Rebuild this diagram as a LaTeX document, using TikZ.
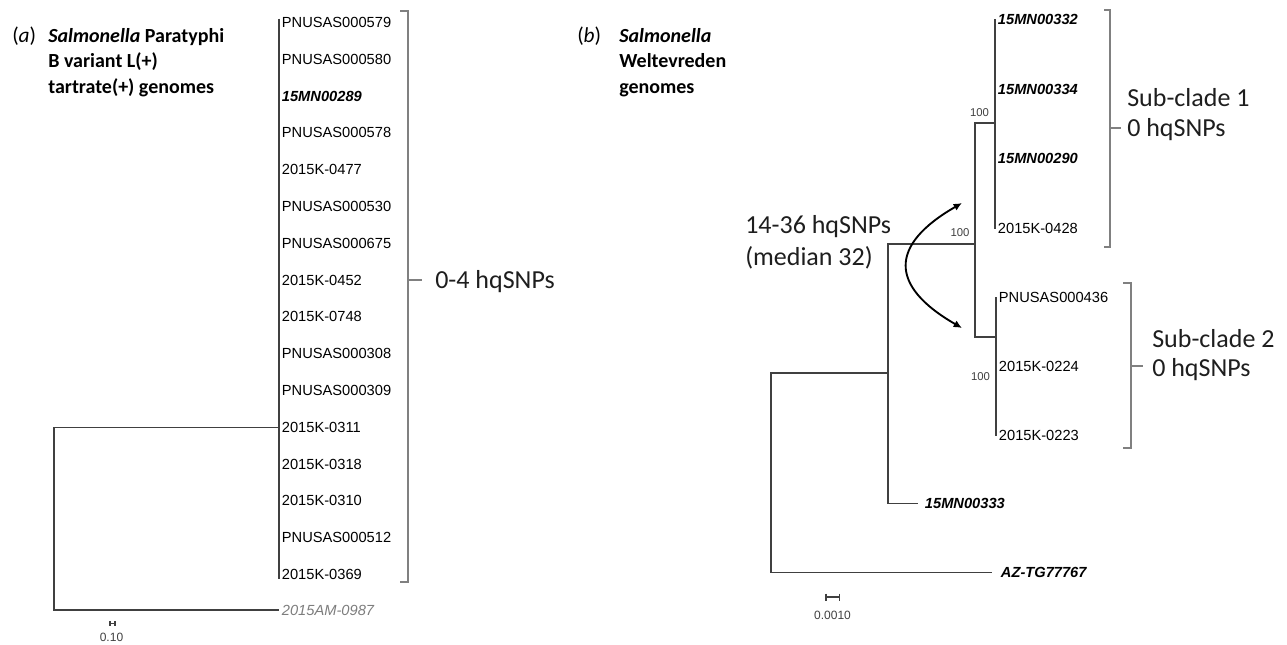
\documentclass[tikz,border=0pt]{standalone}
\usepackage{fontspec}
\setmainfont{Liberation Sans}
\newfontfamily\carlito{Carlito}
\usetikzlibrary{arrows.meta,positioning}
\definecolor{treeink}{RGB}{64,64,64}
\definecolor{bracketgray}{RGB}{128,128,128}
\definecolor{outgroupgray}{RGB}{125,125,125}
\definecolor{noteink}{RGB}{30,30,30}
\tikzset{
  treeline/.style={draw=treeink, line width=0.85pt},
  bracketline/.style={draw=bracketgray, line width=0.85pt},
  tiplabel/.style={anchor=west, inner sep=2pt, font=\fontsize{11}{13}\selectfont},
  tipbold/.style={tiplabel, font=\fontsize{11}{13}\selectfont\bfseries\itshape},
  tipout/.style={tiplabel, text=outgroupgray, font=\fontsize{11}{13}\selectfont\itshape},
  supportlabel/.style={inner sep=0pt, text=treeink, font=\fontsize{8.5}{10}\selectfont},
  scalelabel/.style={inner sep=0pt, text=treeink, font=\fontsize{9}{10}\selectfont},
  snplabel/.style={anchor=base west, inner sep=0pt, text=noteink,
    font=\carlito\fontsize{19.5}{23}\selectfont},
  panelletter/.style={anchor=base west, inner sep=0pt, font=\carlito\fontsize{16}{19}\selectfont},
  paneltitle/.style={anchor=base west, inner sep=0pt, align=left,
    font=\carlito\bfseries\fontsize{15}{19.1}\selectfont},
  swaparrow/.style={{Latex[length=2.2mm,width=2mm]}-{Latex[length=2.2mm,width=2mm]},
    line width=1.4pt, black},
}

\begin{document}
\begin{tikzpicture}[x=0.75pt, y=-0.75pt]
  \useasboundingbox (0,0) rectangle (1287,644);
  % panel (a)
  \node[panelletter] (letA) at (12,42) {(\textit{a})};
  \node[paneltitle] (titleA) at (48,93) {\textit{Salmonella} Paratyphi\\B variant L(+)\\tartrate(+) genomes};
  \foreach \tip [count=\i] in {PNUSAS000579, PNUSAS000580, {\bfseries\itshape 15MN00289},
      PNUSAS000578, 2015K-0477, PNUSAS000530, PNUSAS000675, 2015K-0452, 2015K-0748,
      PNUSAS000308, PNUSAS000309, 2015K-0311, 2015K-0318, 2015K-0310, PNUSAS000512, 2015K-0369}
    \node[tiplabel] (a\i) at (279,{22.5+36.8*(\i-1)}) {\tip};
  \node[tipout] (aout) at (279,610) {2015AM-0987};
  \coordinate (rootA) at (54,610);
  \draw[treeline, shorten <=-3pt, shorten >=-3pt] (a1.west) -- (a16.west);
  \draw[treeline] (a12.west) -| (rootA) -- (aout.west);
  \draw[bracketline] (400,11) -- (408,11) -- (408,582) -- (400,582);
  \draw[bracketline] (408,280) -- (422,280);
  \node[snplabel] (snpA) at (435,288) {0-4 hqSNPs};
  \draw[treeline] (110,623.5) -- (115,623.5) (110,621) -- (110,626) (115,621) -- (115,626);
  \node[scalelabel] (sbA) at (111.5,637.5) {0.10};
  % panel (b)
  \node[panelletter] (letB) at (577,42) {(\textit{b})};
  \node[paneltitle] (titleB) at (619,93) {\textit{Salmonella}\\Weltevreden\\genomes};
  \foreach \sty/\tip/\yy [count=\i] in {tipbold/15MN00332/19, tipbold/15MN00334/89,
      tipbold/15MN00290/158.5, tiplabel/2015K-0428/228.5}
    \node[\sty] (b\i) at (995,\yy) {\tip};
  \foreach \tip/\yy [count=\i] in {PNUSAS000436/297, 2015K-0224/366.5, 2015K-0223/435.5}
    \node[tiplabel] (c\i) at (996,\yy) {\tip};
  \node[tipbold] (bmid) at (922,503.5) {15MN00333};
  \node[tipbold] (bout) at (998,572.5) {AZ-TG77767};
  \coordinate (sc1) at (975,123);
  \coordinate (sc2) at (975,337);
  \coordinate (subA) at (975,244);
  \coordinate (ingrp) at (888,373);
  \coordinate (rootB) at (771,572.5);
  \draw[treeline] (b1.west) -- (b4.west);
  \draw[treeline] (c1.west) -- (c3.west);
  \draw[treeline] (sc1 -| b1.west) -- (sc1) -- (sc2) -- (sc2 -| c1.west);
  \draw[treeline] (ingrp) |- (subA);
  \draw[treeline, shorten >=3pt] (ingrp) |- (bmid.west);
  \draw[treeline] (rootB) |- (ingrp);
  \draw[treeline, shorten >=4.5pt] (rootB) -- (bout.west);
  \node[supportlabel] (bs1) at (979.5,113) {100};
  \node[supportlabel] (bs2) at (960,233) {100};
  \node[supportlabel] (bs3) at (980.5,377) {100};
  \draw[bracketline] (1104,10) -- (1110,10) -- (1110,247) -- (1104,247);
  \draw[bracketline] (1110,128) -- (1121,128);
  \node[snplabel] (subB1) at (1127,106) {Sub-clade 1};
  \node[snplabel] (snpB1) at (1127,136) {0 hqSNPs};
  \draw[bracketline] (1123,283) -- (1131,283) -- (1131,448) -- (1123,448);
  \draw[bracketline] (1131,366) -- (1143,366);
  \node[snplabel] (subB2) at (1152,347) {Sub-clade 2};
  \node[snplabel] (snpB2) at (1152,376) {0 hqSNPs};
  \node[snplabel] (spreadB) at (745,233) {14-36 hqSNPs};
  \node[snplabel] (medianB) at (745,265) {(median 32)};
  \coordinate (swapTop) at (962,203);
  \coordinate (swapBot) at (962,328);
  \draw[swaparrow] (swapTop) .. controls (889,245) and (889,286) .. (swapBot);
  \draw[treeline] (826,597) -- (839.5,597) (826,593.5) -- (826,600.5) (839.5,593.5) -- (839.5,600.5);
  \node[scalelabel] (sbB) at (832.5,615) {0.0010};
\end{tikzpicture}
\end{document}
